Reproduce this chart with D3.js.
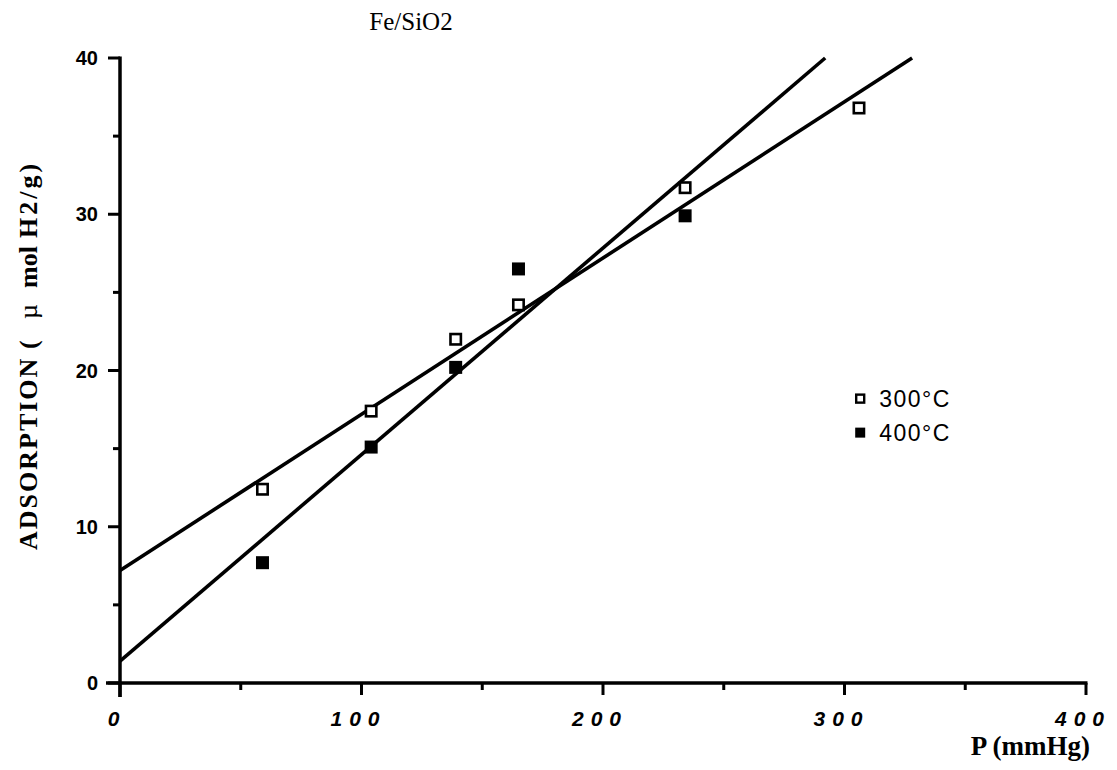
<!DOCTYPE html>
<html>
<head>
<meta charset="utf-8">
<script src="https://cdn.jsdelivr.net/npm/d3@7"></script>
<style>
  body { margin: 0; background: #fff; }
  svg { display: block; }
</style>
</head>
<body>
<svg id="chart" width="1117" height="770"></svg>
<script>
// pressure (mmHg) and adsorption readings
const p300 = [59, 104, 139, 165, 234, 306];
const a300 = [12.4, 17.4, 22.0, 24.2, 31.7, 36.8];
const p400 = [59, 104, 139, 165, 234];
const a400 = [7.7, 15.1, 20.2, 26.5, 29.9];
// fitted lines, end points
const fit300 = [[0, 7.2], [328, 40]];
const fit400 = [[0, 1.4], [292, 40]];
const xTicks = [0, 100, 200, 300, 400];
const yTicks = [0, 10, 20, 30, 40];
const legendLabels = ['300°C', '400°C'];

const margin = {left: 120, right: 31, top: 58, bottom: 87};
const svg = d3.select('#chart');
const width = +svg.attr('width'), height = +svg.attr('height');
const innerWidth = width - margin.left - margin.right;
const innerHeight = height - margin.top - margin.bottom;

const x = d3.scaleLinear().domain([0, 400]).range([0, innerWidth]);
const y = d3.scaleLinear().domain([0, 40]).range([innerHeight, 0]);

const g = svg.append('g').attr('transform', `translate(${margin.left},${margin.top})`);
const sans = '"Liberation Sans", Arial, sans-serif';
const serif = '"Liberation Serif", "Times New Roman", serif';

// x axis
const xAxis = g.append('g').attr('transform', `translate(0,${innerHeight})`);
xAxis.append('line')
    .attr('x1', -14).attr('x2', x(400) + 1.5)
    .attr('stroke', '#000').attr('stroke-width', 3.5);
xAxis.selectAll('.xminor').data(d3.range(50, 400, 100)).join('line')
    .attr('x1', d => x(d)).attr('x2', d => x(d))
    .attr('y1', 0).attr('y2', 7)
    .attr('stroke', '#000').attr('stroke-width', 3);
xAxis.selectAll('.xmajor').data(xTicks).join('line')
    .attr('x1', d => x(d)).attr('x2', d => x(d))
    .attr('y1', 0).attr('y2', d => d === 0 ? 14 : 12)
    .attr('stroke', '#000').attr('stroke-width', 3);
xAxis.selectAll('text').data(xTicks).join('text')
    .attr('x', d => x(d)).attr('dx', -3).attr('y', 43)
    .attr('text-anchor', 'middle')
    .style('font-family', sans)
    .style('font-weight', 'bold').style('font-style', 'italic')
    .style('font-size', '21px').style('letter-spacing', '7px')
    .text(d => d);

// y axis
const yAxis = g.append('g');
yAxis.append('line')
    .attr('y1', y(40) - 1.5).attr('y2', innerHeight + 14)
    .attr('stroke', '#000').attr('stroke-width', 3.5);
yAxis.selectAll('.yminor').data(d3.range(5, 40, 10)).join('line')
    .attr('x1', -7).attr('x2', 0)
    .attr('y1', d => y(d)).attr('y2', d => y(d))
    .attr('stroke', '#000').attr('stroke-width', 3);
yAxis.selectAll('.ymajor').data(yTicks).join('line')
    .attr('x1', -12).attr('x2', 0)
    .attr('y1', d => y(d)).attr('y2', d => y(d))
    .attr('stroke', '#000').attr('stroke-width', 3);
yAxis.selectAll('text').data(yTicks).join('text')
    .attr('x', -22).attr('y', d => y(d)).attr('dy', '0.36em')
    .attr('text-anchor', 'end')
    .style('font-family', sans)
    .style('font-weight', 'bold')
    .style('font-size', '20px')
    .text(d => d);

// fitted lines
const line = d3.line().x(d => x(d[0])).y(d => y(d[1]));
[fit300, fit400].forEach(f => {
  g.append('path')
      .datum(f)
      .attr('d', line)
      .attr('fill', 'none')
      .attr('stroke', '#000')
      .attr('stroke-width', 3.6);
});

// points
const s = 13;
g.selectAll('.open').data(p300.map((p, i) => [p, a300[i]])).join('rect')
    .attr('x', d => x(d[0]) - s / 2 + 1.3).attr('y', d => y(d[1]) - s / 2 + 1.3)
    .attr('width', s - 2.6).attr('height', s - 2.6)
    .attr('fill', '#fff').attr('stroke', '#000').attr('stroke-width', 2.6);
g.selectAll('.filled').data(p400.map((p, i) => [p, a400[i]])).join('rect')
    .attr('x', d => x(d[0]) - s / 2).attr('y', d => y(d[1]) - s / 2)
    .attr('width', s).attr('height', s)
    .attr('fill', '#000');

// legend
const legend = g.append('g').attr('transform', `translate(${x(306.5)},${y(18.2)})`);
legendLabels.forEach((lab, i) => {
  const row = legend.append('g').attr('transform', `translate(0,${i * 34})`);
  row.append('rect')
      .attr('x', i === 0 ? -4 : -5).attr('y', i === 0 ? -4 : -5)
      .attr('width', i === 0 ? 8 : 10).attr('height', i === 0 ? 8 : 10)
      .attr('fill', i === 0 ? '#fff' : '#000')
      .attr('stroke', i === 0 ? '#000' : 'none')
      .attr('stroke-width', 2.4);
  row.append('text')
      .attr('x', 19).attr('dy', '0.36em')
      .style('font-family', sans)
      .style('font-size', '23px')
      .style('letter-spacing', '1.5px')
      .text(lab);
});

// title and axis labels
svg.append('text')
    .attr('x', 411).attr('y', 30)
    .attr('text-anchor', 'middle')
    .style('font-family', serif)
    .style('font-size', '25px')
    .text('Fe/SiO2');

svg.append('text')
    .attr('x', 1090).attr('y', 755)
    .attr('text-anchor', 'end')
    .style('font-family', serif)
    .style('font-weight', 'bold')
    .style('font-size', '27px')
    .text('P (mmHg)');

// y label in pieces, following the gaps of the original
const yParts = [
  {t: 'ADSORPTION', at: 550, ls: 2, w: 'bold'},
  {t: '(', at: 349, ls: 0, w: 'bold'},
  {t: 'µ', at: 319, ls: 0, w: 'normal'},
  {t: 'mol', at: 288, ls: 0, w: 'bold'},
  {t: 'H2/g)', at: 238, ls: 3, w: 'bold'}
];
svg.selectAll('.ylab').data(yParts).join('text')
    .attr('class', 'ylab')
    .attr('transform', d => `translate(37,${d.at}) rotate(-90)`)
    .style('font-family', serif)
    .style('font-size', '26px')
    .style('font-weight', d => d.w)
    .style('letter-spacing', d => d.ls + 'px')
    .text(d => d.t);
</script>
</body>
</html>
